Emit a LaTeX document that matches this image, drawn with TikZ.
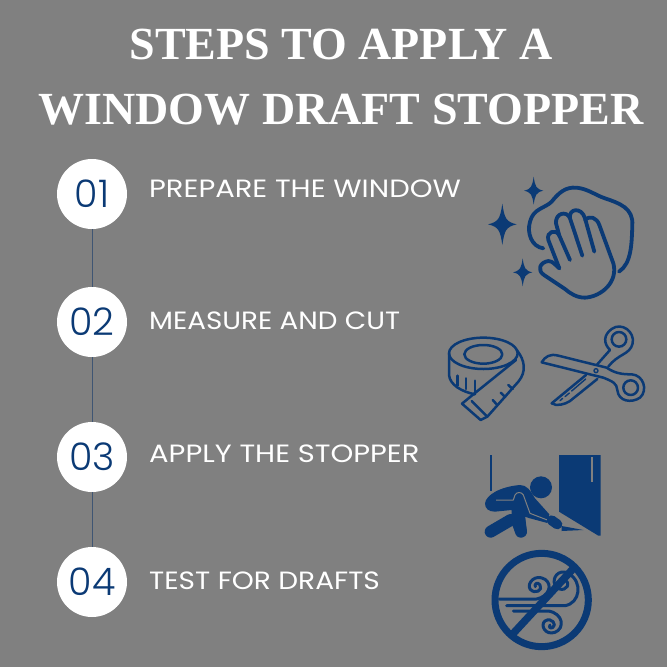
\documentclass[tikz,border=0pt]{standalone}
\usepackage{fontspec}
\setmainfont{Poppins}[FakeStretch=1.16]
\newfontfamily\numfont{Poppins}[UprightFont={* Light}]
\newfontfamily\titlefont{Liberation Serif}
\definecolor{navy}{HTML}{0B3A75}
\definecolor{slate}{HTML}{3F5573}
\definecolor{bggray}{HTML}{808080}
\tikzset{
  stepnum/.style={circle,fill=white,minimum size=70pt,inner sep=0pt,text=navy,font=\numfont\fontsize{38}{38}\selectfont},
  steplabel/.style={anchor=west,inner sep=0pt,text=white,font=\fontsize{25}{25}\selectfont},
  headline/.style={inner sep=0pt,text=white,font=\titlefont\bfseries\fontsize{46}{46}\selectfont},
  icon/.style={draw=navy,line width=2.5pt,line cap=round,line join=round},
  handicon/.style={draw=navy,line width=3.8pt,line cap=round,line join=round},
  thinicon/.style={draw=navy,line width=1.4pt,line cap=round,line join=round},
}
\newcommand{\sparkle}[4]{\fill[navy] (#1-#3,#2) .. controls (#1-#3*0.25,#2-#4*0.12) and (#1-#3*0.15,#2-#4*0.3) .. (#1,#2-#4)
  .. controls (#1+#3*0.15,#2-#4*0.3) and (#1+#3*0.25,#2-#4*0.12) .. (#1+#3,#2)
  .. controls (#1+#3*0.25,#2+#4*0.12) and (#1+#3*0.15,#2+#4*0.3) .. (#1,#2+#4)
  .. controls (#1-#3*0.15,#2+#4*0.3) and (#1-#3*0.25,#2+#4*0.12) .. (#1-#3,#2) -- cycle;}

\begin{document}
\begin{tikzpicture}[x=1pt,y=-1pt]
  \fill[bggray] (0,0) rectangle (667,667);
  \useasboundingbox (0,0) rectangle (667,667);

  \node[headline] (titleone) at (341,44) {STEPS TO APPLY A};
  \node[headline] (titletwo) at (341,110) {WINDOW DRAFT STOPPER};

  % number circles
  \foreach \n/\y in {01/194,02/322,03/457,04/582}
  \node[stepnum] (step\n) at (92,\y) {\n};

  \draw[slate,line width=0.9pt] (step01) -- (step02);
  \draw[slate,line width=0.9pt] (step02) -- (step03);
  \draw[slate,line width=0.9pt] (step03) -- (step04);

  \node[steplabel] (labelone) at (149,189) {PREPARE THE WINDOW};
  \node[steplabel,xscale=0.958,transform shape] (labeltwo) at (149,321) {MEASURE AND CUT};
  \node[steplabel] (labelthree) at (149,454) {APPLY THE STOPPER};
  \node[steplabel,xscale=0.966,transform shape] (labelfour) at (149,581) {TEST FOR DRAFTS};

  % cloth and hand
  \begin{scope}[shift={(470,165)},scale=1/3]
    \sparkle{97}{178}{43}{62}
    \sparkle{191}{77}{29}{42}
    \sparkle{158}{322}{29}{42}
    \draw[handicon] (220,250) .. controls (185,245) and (170,205) .. (180,170)
      .. controls (190,130) and (225,130) .. (245,110)
      .. controls (265,85) and (285,65) .. (320,68)
      .. controls (355,72) and (375,90) .. (405,100)
      .. controls (450,115) and (490,130) .. (487,180)
      .. controls (485,235) and (485,295) .. (447,320);
    \draw[handicon] (268,310) -- (235,225) .. controls (228,200) and (258,190) .. (268,212) -- (300,285);
    \draw[handicon] (268,212) -- (258,175) .. controls (255,145) and (290,135) .. (300,160) -- (337,272);
    \draw[handicon] (300,160) .. controls (295,130) and (335,125) .. (345,160) -- (373,260);
    \draw[handicon] (345,165) .. controls (360,150) and (380,158) .. (388,180) -- (430,295)
      .. controls (445,350) and (395,395) .. (345,398)
      .. controls (320,398) and (300,385) .. (285,372) -- (222,330)
      .. controls (200,315) and (210,292) .. (235,288) .. controls (250,288) and (258,303) .. (268,310);
  \end{scope}

  % tape measure
  \begin{scope}[shift={(440,315)},scale=1/3]
    \draw[icon] (130,115) ellipse [x radius=103,y radius=47];
    \draw[icon] (130,118) ellipse [x radius=57,y radius=28];
    \draw[icon] (27,115) -- (27,180) .. controls (30,210) and (65,230) .. (105,238);
    \draw[icon] (228,135) -- (100,238) -- (66,266) -- (122,315) -- (142,305);
    \draw[icon] (230,105) .. controls (255,135) and (260,170) .. (235,200) -- (142,305) -- (95,258);
    \foreach \xa/\ya/\xb/\yb in {52/182/52/212,78/190/78/222,105/197/105/232,205/210/218/222,182/233/196/246,158/255/172/270}
    \draw[icon] (\xa,\ya) -- (\xb,\yb);
  \end{scope}

  % scissors
  \begin{scope}[shift={(440,315)},scale=1/3]
    \draw[icon] (537,73) circle [radius=22];
    \draw[icon] (572,218) circle [radius=22];
    \draw[thinicon] (468,167) circle [radius=6];
    \draw[icon] (305,142) .. controls (315,125) and (330,115) .. (355,122) -- (500,158)
      .. controls (525,175) and (545,178) .. (575,178)
      .. controls (610,180) and (625,225) .. (600,248)
      .. controls (575,265) and (535,260) .. (532,225)
      .. controls (530,205) and (520,200) .. (490,188) -- (305,142);
    \draw[icon] (470,150) -- (510,105) .. controls (490,85) and (490,60) .. (515,42)
      .. controls (545,20) and (585,50) .. (578,85)
      .. controls (570,120) and (535,115) .. (505,155);
    \draw[icon] (438,180) -- (335,265) .. controls (350,275) and (375,268) .. (390,258) -- (472,192);
    \draw[thinicon] (437,192) -- (395,228);
    \draw[thinicon] (388,234) -- (375,245);
    \draw[thinicon] (368,250) -- (360,257);
  \end{scope}

  % worker at the door
  \begin{scope}[shift={(470,445)},scale=1/3]
    \fill[navy] (267,30) -- (392,30) -- (392,272) -- (385,272) -- (267,200) -- cycle;
    \draw[bggray,line width=2pt] (367,36) -- (367,110);
    \draw[navy,line width=2pt] (63,30) -- (63,138);
    \fill[navy] (213,127) circle [radius=33];
    \fill[navy] (45,175) .. controls (48,150) and (90,125) .. (150,120)
      .. controls (170,120) and (180,135) .. (195,160) -- (238,208) -- (232,234) -- (180,220)
      -- (165,215) -- (170,262) -- (135,262) -- (125,235) -- (125,195) -- (75,200) .. controls (55,200) and (45,190) .. (45,175) -- cycle;
    \draw[navy,line width=12pt,line cap=round] (62,260) -- (122,225);
    \draw[navy,line width=12pt,line cap=round] (145,200) -- (153,260);
    \draw[bggray,line width=1pt,line join=round] (78,165) -- (130,165) -- (135,150) .. controls (140,140) and (155,140) .. (160,150) -- (180,205) -- (232,225);
    \draw[navy,line width=10pt,line cap=round] (245,226) -- (262,238);
    \fill[navy] (275,243) -- (340,255) -- (275,258) -- cycle;
  \end{scope}

  % no wind sign
  \begin{scope}[shift={(480,545)},scale=1/3]
    \draw[navy,line width=7pt] (185,165) circle [radius=140];
    \draw[navy,line width=7.5pt] (285,65) -- (100,265);
    \draw[handicon,line width=3pt] (58,162) -- (170,162) .. controls (205,155) and (220,120) .. (195,103)
      .. controls (165,85) and (140,115) .. (150,132) .. controls (165,150) and (190,135) .. (180,120) .. controls (172,108) and (162,118) .. (166,125);
    \draw[handicon,line width=3pt] (80,182) -- (255,182) .. controls (300,175) and (310,110) .. (265,85)
      .. controls (235,70) and (215,100) .. (225,120) .. controls (240,145) and (270,130) .. (262,112) .. controls (255,100) and (243,105) .. (245,115);
    \draw[handicon,line width=3pt] (100,198) -- (205,198) .. controls (250,205) and (255,250) .. (225,262)
      .. controls (195,272) and (180,240) .. (195,228) .. controls (215,215) and (232,240) .. (218,248) .. controls (208,252) and (205,242) .. (210,240);
  \end{scope}
\end{tikzpicture}
\end{document}
